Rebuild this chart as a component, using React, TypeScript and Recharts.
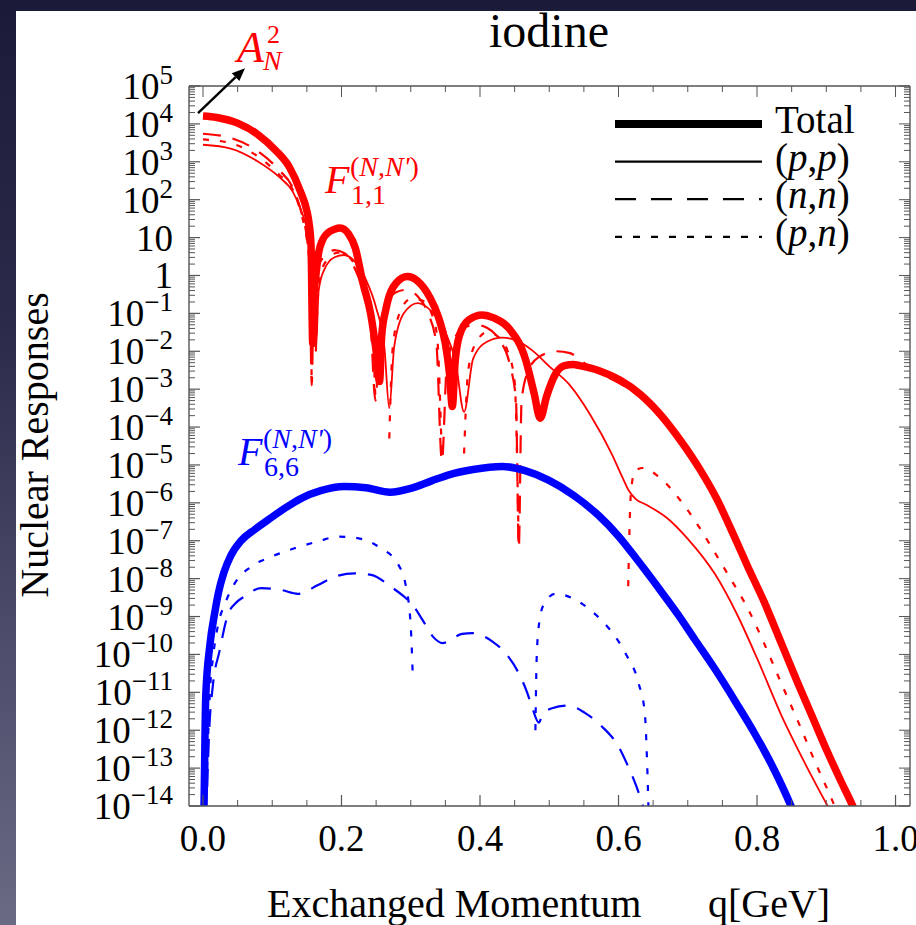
import React from 'react';
import { LineChart, Line, XAxis, YAxis, ReferenceDot, Customized } from 'recharts';

const SERIF = '"Liberation Serif", "Times New Roman", serif';
const RED = '#ff0000';
const BLUE = '#0000ff';
const FRAME = '#555555';

// q [GeV] against log10 of the nuclear response; null = sign change (not drawn on a log axis)
type Pt = [number, number | null];

const redTotal: Pt[] = [
  [0, 4.21], [0.02, 4.17], [0.05, 4.02], [0.08, 3.71], [0.105, 3.3], [0.125, 2.85], [0.14, 2.25],
  [0.15, 1.7], [0.153, 1.4], [0.156, 0.8], [0.1585, -1.8], [0.16, -0.6], [0.163, 0.0], [0.167, 0.6],
  [0.173, 0.95], [0.18, 1.12], [0.19, 1.22], [0.198, 1.25], [0.21, 1.1], [0.22, 0.72], [0.231, -0.2],
  [0.242, -1.0], [0.25, -2.0], [0.255, -2.8], [0.258, -1.6], [0.264, -0.9], [0.279, -0.2], [0.295, -0.03],
  [0.31, -0.15], [0.327, -0.56], [0.34, -1.1], [0.35, -1.8], [0.356, -2.6], [0.36, -3.46], [0.364, -2.3],
  [0.37, -1.6], [0.384, -1.17], [0.403, -1.04], [0.42, -1.12], [0.442, -1.4], [0.466, -2.23], [0.478, -3.1],
  [0.487, -3.77], [0.496, -3.2], [0.509, -2.6], [0.522, -2.38], [0.535, -2.35], [0.544, -2.38], [0.573, -2.52],
  [0.602, -2.76], [0.631, -3.13], [0.66, -3.66], [0.689, -4.34], [0.718, -5.13], [0.742, -5.9], [0.765, -6.8],
  [0.787, -7.7], [0.809, -8.56], [0.835, -9.7], [0.859, -10.76], [0.88, -11.65], [0.9, -12.5],
  [0.92, -13.3], [0.937, -13.95], [0.95, -14.5],
];

const redPP: Pt[] = [
  [0, 3.45], [0.04, 3.35], [0.08, 3.0], [0.11, 2.6], [0.13, 2.2], [0.145, 1.55], [0.155, 0.8], [0.16, -0.3],
  [0.163, -2.0], [0.167, -0.4], [0.175, 0.15], [0.19, 0.48], [0.204, 0.54], [0.22, 0.35], [0.235, -0.1],
  [0.25, -0.85], [0.262, -1.9], [0.269, -3.5], [0.276, -1.9], [0.29, -1.0], [0.31, -0.73], [0.33, -0.95],
  [0.35, -1.5], [0.365, -2.3], [0.377, -3.6], [0.39, -2.2], [0.41, -1.75], [0.432, -1.64], [0.45, -1.7],
  [0.475, -1.97], [0.5, -2.4], [0.53, -2.9], [0.56, -3.7], [0.59, -4.7], [0.605, -5.3], [0.615, -5.68],
  [0.625, -5.9], [0.64, -6.05], [0.67, -6.4], [0.7, -6.95], [0.74, -7.9], [0.77, -8.9], [0.8, -10.1],
  [0.835, -11.6], [0.87, -12.9], [0.902, -14.0], [0.92, -14.6],
];

const redNN: Pt[] = [
  [0, 3.74], [0.04, 3.63], [0.08, 3.27], [0.11, 2.78], [0.13, 2.3], [0.143, 1.6], [0.15, 1.0], [0.154, 0.2],
  [0.157, -2.9], [0.16, -0.3], [0.165, 0.15], [0.175, 0.5], [0.19, 0.67], [0.205, 0.58], [0.22, 0.15],
  [0.232, -0.45], [0.242, -1.3], [0.249, -3.3], [0.255, -1.5], [0.265, -0.75], [0.278, -0.45], [0.293, -0.38],
  [0.31, -0.55], [0.325, -1.0], [0.337, -1.8], [0.345, -4.9], [0.352, -2.4], [0.365, -1.6], [0.38, -1.35],
  [0.394, -1.3], [0.41, -1.38], [0.428, -1.7], [0.443, -2.35], [0.452, -3.3], [0.456, -7.2], [0.46, -3.3],
  [0.47, -2.5], [0.485, -2.15], [0.51, -2.0], [0.53, -2.05], [0.55, -2.3], [0.575, -2.6], [0.602, -2.85],
  [0.631, -3.2], [0.66, -3.75], [0.689, -4.42], [0.718, -5.2], [0.765, -6.9], [0.81, -8.65], [0.86, -10.85],
  [0.9, -12.6], [0.935, -14.0], [0.95, -14.6],
];

const redPN: Pt[] = [
  [0, 3.59], [0.04, 3.49], [0.08, 3.13], [0.11, 2.66], [0.13, 2.25], [0.143, 1.55], [0.15, 0.95], [0.154, 0.2],
  [0.157, -2.9], [0.16, null], [0.163, -2.0], [0.167, -0.3], [0.175, 0.3], [0.195, 0.6], [0.21, 0.5],
  [0.225, 0.05], [0.237, -0.7], [0.245, -1.6], [0.249, -3.3], [0.26, null], [0.269, -4.3], [0.274, -1.9],
  [0.285, -0.95], [0.3, -0.62], [0.315, -0.65], [0.33, -1.0], [0.338, -1.6], [0.345, -4.9], [0.36, null],
  [0.377, -4.7], [0.383, -2.5], [0.395, -1.75], [0.41, -1.5], [0.425, -1.6], [0.44, -2.0], [0.45, -2.8],
  [0.456, -7.2], [0.5, null], [0.614, -8.2], [0.618, -5.7], [0.624, -5.15], [0.635, -5.08], [0.658, -5.31],
  [0.69, -5.95], [0.715, -6.6], [0.737, -7.25], [0.76, -7.95], [0.787, -8.8], [0.81, -9.7], [0.835, -10.76],
  [0.86, -11.8], [0.883, -12.8], [0.912, -14.0], [0.925, -14.6],
];

const blueTotal: Pt[] = [
  [0, -15.5], [0.0015, -14.0], [0.004, -11.1], [0.01, -9.75], [0.017, -8.9], [0.022, -8.4], [0.03, -7.85],
  [0.04, -7.4], [0.055, -7.0], [0.075, -6.7], [0.094, -6.45], [0.12, -6.12], [0.142, -5.88], [0.17, -5.68],
  [0.204, -5.57], [0.235, -5.6], [0.27, -5.72], [0.3, -5.62], [0.33, -5.42], [0.355, -5.26], [0.39, -5.12],
  [0.432, -5.04], [0.465, -5.15], [0.499, -5.4], [0.535, -5.8], [0.571, -6.33], [0.6, -6.88], [0.629, -7.55],
  [0.66, -8.3], [0.686, -8.95], [0.71, -9.6], [0.739, -10.38], [0.77, -11.28], [0.797, -12.1], [0.825, -13.05],
  [0.849, -14.0], [0.86, -14.5],
];

const blueNN: Pt[] = [
  [0.006, -13.5], [0.009, -12.0], [0.014, -10.86], [0.024, -9.9], [0.036, -8.95], [0.047, -8.65], [0.06, -8.47],
  [0.084, -8.25], [0.113, -8.3], [0.137, -8.4], [0.166, -8.17], [0.19, -7.95], [0.219, -7.86], [0.243, -7.9],
  [0.271, -8.21], [0.29, -8.47], [0.303, -8.7], [0.317, -9.09], [0.332, -9.53], [0.346, -9.7], [0.36, -9.58],
  [0.374, -9.46], [0.389, -9.44], [0.405, -9.52], [0.418, -9.66], [0.437, -9.97], [0.456, -10.5], [0.468, -11.0],
  [0.475, -11.38], [0.485, -11.8], [0.49, -11.6], [0.504, -11.42], [0.528, -11.35], [0.552, -11.55],
  [0.576, -11.9], [0.6, -12.43], [0.614, -12.96], [0.626, -13.49], [0.634, -13.93], [0.64, -14.3],
];

const bluePN: Pt[] = [
  [0.006, -13.0], [0.01, -11.0], [0.015, -10.0], [0.022, -9.2], [0.032, -8.65], [0.046, -8.12], [0.07, -7.68],
  [0.099, -7.42], [0.132, -7.2], [0.166, -7.02], [0.195, -6.89], [0.223, -6.93], [0.257, -7.2], [0.281, -7.6],
  [0.293, -8.2], [0.3, -9.26], [0.303, -10.6], [0.39, null], [0.48, -12.0], [0.482, -10.0], [0.486, -9.1],
  [0.493, -8.65], [0.509, -8.4], [0.538, -8.56], [0.562, -8.87], [0.586, -9.31], [0.61, -9.97], [0.629, -10.76],
  [0.638, -11.55], [0.641, -12.7], [0.643, -13.9], [0.644, -14.6],
];

// axis ticks
const Y_EXPONENTS = [5, 4, 3, 2, 1, 0, -1, -2, -3, -4, -5, -6, -7, -8, -9, -10, -11, -12, -13, -14];
const X_TICKS = [0, 0.05, 0.1, 0.15, 0.2, 0.25, 0.3, 0.35, 0.4, 0.45, 0.5, 0.55, 0.6, 0.65, 0.7, 0.75, 0.8, 0.85, 0.9, 0.95, 1.0];
const LEGEND_LABELS = ['Total', '(p,p)', '(n,n)', '(p,n)'];

const X_DOMAIN = [-0.0202, 1.0209];
const Y_DOMAIN = [1e-14, 1e5];

const yTicks: number[] = [];
Y_EXPONENTS.forEach((e) => {
  yTicks.push(Number(`1e${e}`));
  if (e < 5) for (let m = 2; m <= 9; m++) yTicks.push(Number(`${m}e${e}`));
});

const toRows = (pts: Pt[]) => pts.map(([q, e]) => ({ q, v: e === null ? null : Math.pow(10, e) }));

const isDecade = (v: number) => {
  const e = Math.log10(v);
  return Math.abs(e - Math.round(e)) < 1e-9;
};
const isMajorX = (v: number) => Math.abs(v * 5 - Math.round(v * 5)) < 1e-9;

const serifStyle = { fontFamily: SERIF };

const LeftTick = ({ x, y, payload }: any) => {
  const v = payload.value;
  if (!isDecade(v)) return <line x1={x} y1={y} x2={x + 6} y2={y} stroke={FRAME} strokeWidth={1} />;
  const n = Math.round(Math.log10(v));
  return (
    <g>
      <line x1={x} y1={y} x2={x + 11} y2={y} stroke={FRAME} strokeWidth={1.2} />
      <text x={x - 16} y={y + 13} textAnchor="end" style={serifStyle} fontSize={37} fill="#000">
        {n === 0 ? '1' : n === 1 ? '10' : (
          <>
            10<tspan dy={-15} fontSize={27}>{n < 0 ? `\u2212${-n}` : n}</tspan>
          </>
        )}
      </text>
    </g>
  );
};

const RightTick = ({ x, y, payload }: any) => {
  const len = isDecade(payload.value) ? 11 : 6;
  return <line x1={x} y1={y} x2={x - len} y2={y} stroke={FRAME} strokeWidth={1} />;
};

const BottomTick = ({ x, y, payload }: any) => {
  const v = payload.value;
  if (!isMajorX(v)) return <line x1={x} y1={y} x2={x} y2={y - 6} stroke={FRAME} strokeWidth={1} />;
  return (
    <g>
      <line x1={x} y1={y} x2={x} y2={y - 11} stroke={FRAME} strokeWidth={1.2} />
      <text x={x} y={y + 45} textAnchor="middle" style={serifStyle} fontSize={37} fill="#000">
        {v.toFixed(1)}
      </text>
    </g>
  );
};

const TopTick = ({ x, y, payload }: any) => {
  const len = isMajorX(payload.value) ? 11 : 6;
  return <line x1={x} y1={y} x2={x} y2={y + len} stroke={FRAME} strokeWidth={1} />;
};

const italic = (s: string) => <tspan fontStyle="italic">{s}</tspan>;

const legendText = (label: string) => {
  if (label === 'Total') return label;
  const [a, b] = label.slice(1, -1).split(',');
  return <>({italic(a)},{italic(b)})</>;
};

const LEGEND_STYLE = [
  { width: 8, dash: undefined },
  { width: 2.2, dash: undefined },
  { width: 2.2, dash: '21 15' },
  { width: 2.2, dash: '7 11' },
];

const Decorations = () => (
  <g fill="#000">
    <text x={549} y={47} textAnchor="middle" fontSize={48} style={serifStyle}>iodine</text>
    <g transform="translate(48 445) rotate(-90)">
      <text x={0} y={0} textAnchor="middle" fontSize={40} style={serifStyle}>Nuclear Responses</text>
    </g>
    <text x={267} y={917} fontSize={40} style={serifStyle}>Exchanged Momentum</text>
    <text x={708} y={917} fontSize={40} style={serifStyle}>q[GeV]</text>
    {LEGEND_LABELS.map((label, i) => (
      <g key={label}>
        <line x1={615} x2={762} y1={124 + 37.6 * i} y2={124 + 37.6 * i} stroke="#000"
          strokeWidth={LEGEND_STYLE[i].width} strokeDasharray={LEGEND_STYLE[i].dash} />
        <text x={775} y={133 + 37.6 * i} fontSize={39} style={serifStyle}>{legendText(label)}</text>
      </g>
    ))}
  </g>
);

const Arrow = ({ cx, cy }: any) => {
  const x1 = cx - 5, y1 = cy - 3, x2 = cx + 42, y2 = cy - 48;
  const ang = Math.atan2(y2 - y1, x2 - x1);
  const L = 13, W = 5.5;
  const bx = x2 - L * Math.cos(ang), by = y2 - L * Math.sin(ang);
  const px = -Math.sin(ang) * W, py = Math.cos(ang) * W;
  return (
    <g style={serifStyle} fill={RED}>
      <line x1={x1} y1={y1} x2={bx} y2={by} stroke="#000" strokeWidth={2.4} />
      <polygon points={`${x2},${y2} ${bx + px},${by + py} ${bx - px},${by - py}`} fill="#000" />
      <text x={cx + 34} y={cy - 54} fontSize={44} fontStyle="italic">A</text>
      <text x={cx + 64} y={cy - 73} fontSize={26}>2</text>
      <text x={cx + 60} y={cy - 46} fontSize={28} fontStyle="italic">N</text>
    </g>
  );
};

const FLabel = (color: string, sub: string) => ({ cx, cy }: any) => (
  <g style={serifStyle} fill={color}>
    <text x={cx} y={cy} fontSize={40} fontStyle="italic">F</text>
    <text x={cx + 25} y={cy - 17} fontSize={28}>({italic('N')},{italic("N'")})</text>
    <text x={cx + 26} y={cy + 11} fontSize={28}>{sub}</text>
  </g>
);

const F11 = FLabel(RED, '1,1');
const F66 = FLabel(BLUE, '6,6');

const common = { xAxisId: 'b', yAxisId: 'l', dataKey: 'v', type: 'monotone' as const, dot: false, isAnimationActive: false, activeDot: false, strokeLinejoin: 'round' as const };

export default function App() {
  return (
    <div style={{ position: 'absolute', left: 0, top: 0, width: 916, height: 925, overflow: 'hidden',
      background: 'linear-gradient(180deg, #1b1b39 0%, #2a2a4a 35%, #4d4d6c 70%, #6b6a84 100%)' }}>
      <div style={{ position: 'absolute', left: 16, top: 11, width: 900, height: 914, background: '#fff' }} />
      <div style={{ position: 'absolute', left: 0, top: 0 }}>
        <LineChart width={916} height={925} margin={{ top: 76, right: 0, bottom: 59, left: 89 }}>
          <XAxis xAxisId="b" dataKey="q" type="number" domain={X_DOMAIN} allowDataOverflow ticks={X_TICKS}
            interval={0} height={60} tickSize={0} tickMargin={0} tickLine={false}
            axisLine={{ stroke: FRAME, strokeWidth: 1.4 }} tick={<BottomTick />} />
          <XAxis xAxisId="t" orientation="top" dataKey="q" type="number" domain={X_DOMAIN} allowDataOverflow
            ticks={X_TICKS} interval={0} height={10} tickSize={0} tickMargin={0} tickLine={false}
            axisLine={{ stroke: FRAME, strokeWidth: 1.4 }} tick={<TopTick />} />
          <YAxis yAxisId="l" scale="log" type="number" domain={Y_DOMAIN} allowDataOverflow ticks={yTicks}
            interval={0} width={100} tickSize={0} tickMargin={0} tickLine={false}
            axisLine={{ stroke: FRAME, strokeWidth: 1.4 }} tick={<LeftTick />} />
          <YAxis yAxisId="r" orientation="right" scale="log" type="number" domain={Y_DOMAIN} allowDataOverflow
            ticks={yTicks} interval={0} width={6} tickSize={0} tickMargin={0} tickLine={false}
            axisLine={{ stroke: FRAME, strokeWidth: 1.4 }} tick={<RightTick />} />

          <Line {...common} data={toRows(blueNN)} stroke={BLUE} strokeWidth={2.2} strokeDasharray="18 12" />
          <Line {...common} data={toRows(bluePN)} stroke={BLUE} strokeWidth={2.2} strokeDasharray="6 11" />
          <Line {...common} data={toRows(redPP)} stroke={RED} strokeWidth={1.8} />
          <Line {...common} data={toRows(redNN)} stroke={RED} strokeWidth={2.2} strokeDasharray="18 12" />
          <Line {...common} data={toRows(redPN)} stroke={RED} strokeWidth={2.2} strokeDasharray="6 11" />
          <Line {...common} data={toRows(blueTotal)} stroke={BLUE} strokeWidth={7.5} />
          <Line {...common} data={toRows(redTotal)} stroke={RED} strokeWidth={7.5} />

          <ReferenceDot xAxisId="b" yAxisId="l" x={0} y={1.6e4} r={0} ifOverflow="visible" shape={Arrow} />
          <ReferenceDot xAxisId="b" yAxisId="l" x={0.176} y={150} r={0} ifOverflow="visible" shape={F11} />
          <ReferenceDot xAxisId="b" yAxisId="l" x={0.0505} y={1e-5} r={0} ifOverflow="visible" shape={F66} />

          <Customized component={Decorations} />
        </LineChart>
      </div>
    </div>
  );
}
